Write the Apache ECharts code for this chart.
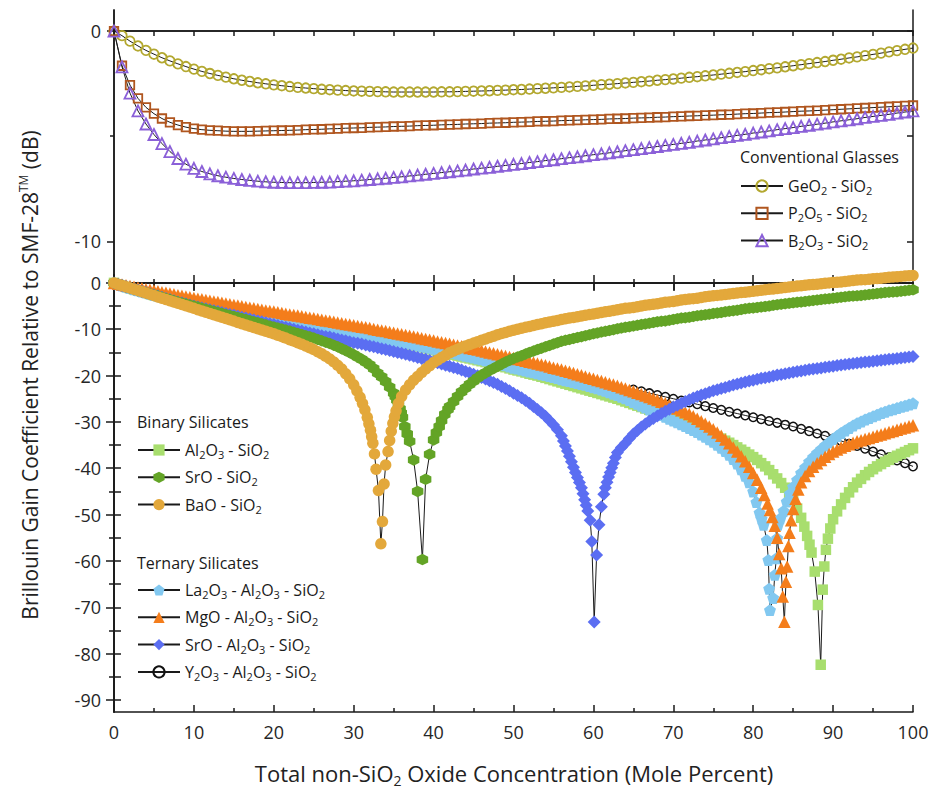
<!DOCTYPE html>
<html><head><meta charset="utf-8">
<script src="https://cdn.jsdelivr.net/npm/echarts@6.0.0/dist/echarts.min.js"></script>
<style>html,body{margin:0;padding:0;background:#fff}#c{width:932px;height:790px}</style>
</head><body><div id="c"></div>
<script>
// ---------- x positions (mole percent) ----------
const X_GRID = [0,1,2,3,4,5,6,7,8,9,10,11,12,13,14,15,16,17,18,19,20,21,22,23,24,25,26,27,28,29,30,31,32,33,34,35,36,37,38,39,40,41,42,43,44,45,46,47,48,49,50,51,52,53,54,55,56,57,58,59,60,61,62,63,64,65,66,67,68,69,70,71,72,73,74,75,76,77,78,79,80,81,82,83,84,85,86,87,88,89,90,91,92,93,94,95,96,97,98,99,100];
const X_HALF = [0.5,1.5,2.5,3.5,4.5,5.5,6.5,7.5,8.5,9.5,10.5,11.5,12.5,13.5,14.5,15.5,16.5,17.5,18.5,19.5,20.5,21.5,22.5,23.5,24.5,25.5,26.5,27.5,28.5,29.5,30.5,31.5,32.5,33.5,34.5,35.5,36.5,37.5,38.5,39.5,40.5,41.5,42.5,43.5,44.5,45.5,46.5,47.5,48.5,49.5,50.5,51.5,52.5,53.5,54.5,55.5,56.5,57.5,58.5,59.5,60.5,61.5,62.5,63.5,64.5,65.5,66.5,67.5,68.5,69.5,70.5,71.5,72.5,73.5,74.5,75.5,76.5,77.5,78.5,79.5,80.5,81.5,82.5,83.5,84.5,85.5,86.5,87.5,88.5,89.5,90.5,91.5,92.5,93.5,94.5,95.5,96.5,97.5,98.5,99.5];

// ---------- top panel: conventional glasses (dB) ----------
const GEO2 = [
 0,-0.22,-0.48,-0.71,-0.92,-1.10,-1.27,-1.42,-1.56,-1.69,
 -1.81,-1.92,-2.02,-2.11,-2.19,-2.27,-2.34,-2.40,-2.46,-2.51,
 -2.56,-2.60,-2.64,-2.68,-2.71,-2.74,-2.77,-2.79,-2.81,-2.83,
 -2.85,-2.86,-2.87,-2.88,-2.89,-2.90,-2.90,-2.90,-2.90,-2.90,
 -2.90,-2.89,-2.89,-2.88,-2.87,-2.86,-2.85,-2.84,-2.82,-2.81,
 -2.79,-2.78,-2.76,-2.74,-2.72,-2.70,-2.68,-2.66,-2.63,-2.61,
 -2.58,-2.55,-2.53,-2.50,-2.47,-2.44,-2.41,-2.38,-2.34,-2.31,
 -2.28,-2.24,-2.20,-2.17,-2.13,-2.09,-2.05,-2.01,-1.97,-1.93,
 -1.88,-1.84,-1.79,-1.75,-1.70,-1.65,-1.60,-1.55,-1.50,-1.45,
 -1.39,-1.34,-1.28,-1.23,-1.17,-1.11,-1.05,-0.99,-0.93,-0.87,
 -0.81];
const P2O5 = [
 0,-1.65,-2.57,-3.20,-3.63,-3.93,-4.16,-4.34,-4.47,-4.57,
 -4.64,-4.69,-4.72,-4.74,-4.76,-4.77,-4.77,-4.77,-4.76,-4.75,
 -4.74,-4.73,-4.72,-4.71,-4.69,-4.68,-4.67,-4.65,-4.64,-4.62,
 -4.61,-4.60,-4.58,-4.57,-4.56,-4.54,-4.53,-4.52,-4.50,-4.49,
 -4.48,-4.46,-4.45,-4.44,-4.42,-4.41,-4.40,-4.38,-4.37,-4.36,
 -4.34,-4.33,-4.32,-4.30,-4.29,-4.28,-4.26,-4.25,-4.24,-4.22,
 -4.21,-4.20,-4.18,-4.17,-4.16,-4.14,-4.13,-4.12,-4.10,-4.09,
 -4.07,-4.06,-4.04,-4.03,-4.01,-4.00,-3.98,-3.97,-3.95,-3.93,
 -3.92,-3.90,-3.88,-3.87,-3.85,-3.83,-3.81,-3.80,-3.78,-3.76,
 -3.74,-3.72,-3.70,-3.68,-3.66,-3.64,-3.62,-3.60,-3.58,-3.56,
 -3.54];
const B2O3 = [
 0,-1.70,-2.95,-3.80,-4.42,-4.92,-5.35,-5.73,-6.06,-6.33,
 -6.53,-6.68,-6.79,-6.88,-6.95,-7.01,-7.06,-7.10,-7.14,-7.17,
 -7.19,-7.20,-7.21,-7.21,-7.21,-7.20,-7.19,-7.18,-7.16,-7.14,
 -7.12,-7.09,-7.06,-7.03,-7.00,-6.96,-6.93,-6.89,-6.85,-6.81,
 -6.77,-6.73,-6.69,-6.65,-6.61,-6.56,-6.52,-6.48,-6.43,-6.39,
 -6.34,-6.30,-6.25,-6.21,-6.16,-6.12,-6.07,-6.02,-5.98,-5.93,
 -5.88,-5.84,-5.79,-5.74,-5.69,-5.64,-5.59,-5.54,-5.49,-5.44,
 -5.39,-5.34,-5.29,-5.23,-5.18,-5.13,-5.07,-5.02,-4.96,-4.91,
 -4.85,-4.80,-4.75,-4.69,-4.64,-4.59,-4.53,-4.48,-4.43,-4.38,
 -4.32,-4.27,-4.22,-4.17,-4.11,-4.06,-4.01,-3.96,-3.90,-3.85,
 -3.80];

// ---------- bottom panel: binary & ternary silicates (dB) ----------
const AL2O3 = [
 0,-0.6,-1.15,-1.65,-2.15,-2.65,-3.05,-3.45,-3.85,-4.25,
 -4.65,-5.05,-5.4,-5.75,-6.1,-6.4,-6.7,-7.0,-7.3,-7.6,
 -7.9,-8.2,-8.5,-8.8,-9.1,-9.4,-9.7,-10.0,-10.3,-10.6,
 -10.9,-11.2,-11.6,-11.9,-12.3,-12.6,-13.0,-13.3,-13.7,-14.1,
 -14.5,-14.9,-15.3,-15.7,-16.1,-16.5,-16.9,-17.3,-17.8,-18.2,
 -18.7,-19.1,-19.6,-20.0,-20.5,-21.0,-21.5,-22.0,-22.5,-23.0,
 -23.5,-24.0,-24.5,-25.0,-25.6,-26.2,-26.8,-27.4,-28.0,-28.6,
 -29.3,-29.9,-30.6,-31.3,-32.0,-32.8,-33.6,-34.5,-35.5,-36.5,
 -37.6,-38.9,-40.4,-42.2,-44.2,null,null,null,null,null,
 null,-47.8,-45.2,-43.1,-41.5,-40.2,-39.1,-38.2,-37.3,-36.5,
 -35.7];
const AL2O3_HALF = [
 -0.3,-0.88,-1.4,-1.9,-2.4,-2.85,-3.25,-3.65,-4.05,-4.45,
 -4.85,-5.22,-5.58,-5.92,-6.25,-6.55,-6.85,-7.15,-7.45,-7.75,
 -8.05,-8.35,-8.65,-8.95,-9.25,-9.55,-9.85,-10.15,-10.45,-10.75,
 -11.05,-11.4,-11.75,-12.1,-12.45,-12.8,-13.15,-13.5,-13.9,-14.3,
 -14.7,-15.1,-15.5,-15.9,-16.3,-16.7,-17.1,-17.55,-18.0,-18.45,
 -18.9,-19.35,-19.8,-20.25,-20.75,-21.25,-21.75,-22.25,-22.75,-23.25,
 -23.75,-24.25,-24.75,-25.3,-25.9,-26.5,-27.1,-27.7,-28.3,-28.95,
 -29.6,-30.25,-30.95,-31.65,-32.4,-33.2,-34.05,-35.0,-36.0,-37.05,
 -38.2,-39.6,-41.3,-43.2,null,null,null,null,null,null,
 null,-46.4,-44.1,-42.3,-40.8,-39.6,-38.6,-37.7,-36.9,-36.1];
const AL2O3_DIP = [[84.5,-45.3],[85.0,-46.9],[85.5,-48.7],[86.0,-50.7],[86.4,-52.6],[86.75,-54.6],[87.05,-56.5],[87.3,-58.2],[87.7,-62.3],[88.1,-69.5],[88.45,-82.4],[88.7,-66.2],[88.9,-61.2],[89.1,-57.6],[89.35,-55.2],[89.65,-53.0],[90.0,-51.0],[90.5,-49.3]];

const SRO = [
 0,-0.55,-1.1,-1.6,-2.1,-2.6,-3.1,-3.6,-4.1,-4.55,
 -5.0,-5.45,-5.9,-6.35,-6.8,-7.25,-7.7,-8.15,-8.6,-9.05,
 -9.5,-9.95,-10.4,-10.9,-11.4,-11.9,-12.5,-13.1,-13.8,-14.6,
 -15.5,-16.5,-17.7,-19.5,-21.3,-23.8,null,null,null,null,
 null,-29.7,-26.7,-24.5,-22.7,-21.2,-19.9,-18.9,-18.0,-17.1,
 -16.3,-15.7,-15.0,-14.4,-13.8,-13.2,-12.6,-12.2,-11.8,-11.4,
 -11.0,-10.6,-10.3,-9.9,-9.6,-9.3,-9.0,-8.7,-8.4,-8.2,
 -7.9,-7.6,-7.4,-7.1,-6.9,-6.6,-6.4,-6.1,-5.9,-5.6,
 -5.4,-5.2,-5.0,-4.7,-4.5,-4.3,-4.1,-3.9,-3.7,-3.5,
 -3.3,-3.1,-2.9,-2.8,-2.6,-2.4,-2.2,-2.0,-1.9,-1.7,
 -1.5];
const SRO_HALF = [
 -0.28,-0.83,-1.35,-1.85,-2.35,-2.85,-3.35,-3.85,-4.33,-4.78,
 -5.22,-5.68,-6.12,-6.58,-7.02,-7.48,-7.92,-8.38,-8.82,-9.28,
 -9.72,-10.18,-10.65,-11.15,-11.65,-12.2,-12.8,-13.45,-14.2,-15.05,
 -16.0,-17.1,null,null,null,null,null,null,null,null,
 null,null,null,null,-21.9,-20.5,-19.4,-18.45,-17.55,-16.7,
 -16.0,-15.35,-14.7,-14.1,-13.5,-12.9,-12.4,-12.0,-11.6,-11.2,
 -10.8,-10.45,-10.1,-9.75,-9.45,-9.15,-8.85,-8.55,-8.3,-8.05,
 -7.75,-7.5,-7.25,-7.0,-6.75,-6.5,-6.25,-6.0,-5.75,-5.5,
 -5.3,-5.1,-4.85,-4.6,-4.4,-4.2,-4.0,-3.8,-3.6,-3.4,
 -3.2,-3.0,-2.85,-2.7,-2.5,-2.3,-2.1,-1.95,-1.8,-1.6];
const SRO_DIP = [[32.5,-18.5],[33.5,-20.3],[34.5,-22.5],[35.2,-24.5],[35.4,-25.3],[35.6,-26.2],[35.8,-27.2],[35.95,-28.1],[36.1,-29.0],[36.4,-31.0],[36.7,-32.6],[37.0,-34.2],[37.5,-38.2],[38.0,-45.0],[38.6,-59.7],[39.0,-42.4],[39.5,-37.0],[40.0,-33.9],[40.35,-32.3],[40.7,-31.0],[41.4,-28.4],[41.8,-27.3],[42.5,-25.6],[43.5,-23.5]];

const BAO = [
 0,-0.55,-1.1,-1.65,-2.2,-2.75,-3.3,-3.85,-4.4,-4.95,
 -5.5,-6.05,-6.6,-7.15,-7.7,-8.25,-8.8,-9.35,-9.9,-10.45,
 -11.0,-11.6,-12.25,-12.9,-13.6,-14.4,-15.3,-16.4,-17.8,-19.6,
 -22.0,null,null,null,null,null,null,null,-20.2,-18.6,
 -17.2,-16.1,-15.1,-14.3,-13.6,-13.0,-12.4,-11.8,-11.2,-10.7,
 -10.2,-9.8,-9.4,-9.0,-8.6,-8.3,-7.9,-7.6,-7.3,-7.0,
 -6.7,-6.4,-6.1,-5.8,-5.5,-5.3,-5.0,-4.7,-4.5,-4.2,
 -4.0,-3.7,-3.5,-3.3,-3.0,-2.8,-2.6,-2.4,-2.2,-2.0,
 -1.8,-1.6,-1.4,-1.2,-1.0,-0.8,-0.6,-0.4,-0.3,-0.1,
 0.1,0.2,0.4,0.6,0.7,0.9,1.0,1.2,1.3,1.5,
 1.6];
const BAO_HALF = [
 -0.28,-0.83,-1.38,-1.93,-2.48,-3.03,-3.58,-4.13,-4.68,-5.23,
 -5.78,-6.33,-6.88,-7.43,-7.98,-8.53,-9.08,-9.63,-10.18,-10.72,
 -11.3,-11.92,-12.57,-13.25,-14.0,-14.85,-15.85,-17.05,null,null,
 null,null,null,null,null,null,null,null,-19.35,-17.9,
 -16.65,-15.6,-14.7,-13.95,-13.3,-12.7,-12.1,-11.5,-10.95,-10.45,
 -10.0,-9.6,-9.2,-8.8,-8.45,-8.1,-7.75,-7.45,-7.15,-6.85,
 -6.55,-6.25,-5.95,-5.65,-5.4,-5.15,-4.85,-4.6,-4.35,-4.1,
 -3.85,-3.6,-3.4,-3.15,-2.9,-2.7,-2.5,-2.3,-2.1,-1.9,
 -1.7,-1.5,-1.3,-1.1,-0.9,-0.7,-0.5,-0.35,-0.2,0.0,
 0.15,0.3,0.5,0.65,0.8,0.95,1.1,1.25,1.4,1.55];
const BAO_DIP = [[28.5,-18.6],[29.5,-20.7],[30.4,-23.3],[30.8,-24.7],[31.1,-26.0],[31.4,-27.4],[31.7,-29.0],[31.9,-30.4],[32.1,-31.8],[32.25,-33.2],[32.4,-34.6],[32.6,-36.9],[32.8,-40.2],[33.1,-44.8],[33.4,-56.3],[33.6,-51.5],[33.8,-43.4],[34.0,-39.3],[34.3,-36.4],[34.5,-34.0],[34.7,-32.0],[34.9,-30.3],[35.1,-28.9],[35.3,-27.6],[35.6,-26.0],[36.0,-24.5],[36.5,-23.1],[37.0,-22.0],[37.5,-21.0]];

const LA2O3 = [
 0,-0.55,-1.1,-1.6,-2.1,-2.6,-3.0,-3.4,-3.8,-4.2,
 -4.6,-5.0,-5.3,-5.7,-6.0,-6.3,-6.6,-6.9,-7.2,-7.5,
 -7.8,-8.1,-8.4,-8.7,-9.0,-9.3,-9.6,-9.9,-10.2,-10.5,
 -10.8,-11.1,-11.4,-11.8,-12.1,-12.4,-12.8,-13.1,-13.5,-13.8,
 -14.2,-14.5,-14.9,-15.3,-15.7,-16.1,-16.5,-16.9,-17.4,-17.8,
 -18.3,-18.7,-19.1,-19.5,-19.9,-20.3,-20.8,-21.2,-21.6,-22.0,
 -22.5,-23.0,-23.6,-24.2,-24.9,-25.7,-26.5,-27.3,-28.1,-28.9,
 -29.7,-30.5,-31.3,-32.2,-33.2,-34.3,-35.6,-37.1,-39.0,-41.6,
 null,null,null,null,null,null,-41.0,-38.6,-36.7,-35.1,
 -33.7,-32.4,-31.3,-30.3,-29.5,-28.8,-28.1,-27.5,-27.0,-26.5,
 -26.0];
const LA2O3_HALF = [
 -0.28,-0.83,-1.35,-1.85,-2.35,-2.8,-3.2,-3.6,-4.0,-4.4,
 -4.8,-5.15,-5.5,-5.85,-6.15,-6.45,-6.75,-7.05,-7.35,-7.65,
 -7.95,-8.25,-8.55,-8.85,-9.15,-9.45,-9.75,-10.05,-10.35,-10.65,
 -10.95,-11.25,-11.6,-11.95,-12.25,-12.6,-12.95,-13.3,-13.65,-14.0,
 -14.35,-14.7,-15.1,-15.5,-15.9,-16.3,-16.7,-17.15,-17.6,-18.05,
 -18.5,-18.9,-19.3,-19.7,-20.1,-20.55,-21.0,-21.4,-21.8,-22.25,
 -22.75,-23.3,-23.9,-24.55,-25.3,-26.1,-26.9,-27.7,-28.5,-29.3,
 -30.1,-30.9,-31.75,-32.7,-33.75,-34.95,-36.3,-38.0,null,null,
 null,null,null,null,null,null,-39.8,-37.6,-35.9,-34.4,
 -33.05,-31.85,-30.8,-29.9,-29.15,-28.45,-27.8,-27.25,-26.75,-26.25];
const LA2O3_DIP = [[78.5,-40.2],[79.5,-43.0],[80.0,-45.0],[80.4,-47.3],[80.8,-49.6],[81.05,-50.9],[81.3,-52.2],[81.7,-55.5],[81.9,-59.8],[82.0,-66.0],[82.1,-70.6],[82.5,-68.0],[82.7,-63.0],[82.9,-59.4],[83.0,-55.1],[83.1,-52.2],[83.4,-50.8],[83.8,-49.2],[84.2,-47.2],[84.6,-45.5],[85.0,-44.0],[85.5,-42.5]];

const MGO = [
 0,-0.35,-0.7,-1.0,-1.35,-1.65,-2.0,-2.3,-2.65,-2.95,
 -3.25,-3.55,-3.85,-4.15,-4.45,-4.75,-5.05,-5.35,-5.65,-5.95,
 -6.2,-6.5,-6.8,-7.05,-7.35,-7.65,-7.95,-8.25,-8.55,-8.85,
 -9.15,-9.45,-9.75,-10.1,-10.4,-10.75,-11.1,-11.4,-11.75,-12.1,
 -12.45,-12.8,-13.15,-13.5,-13.85,-14.2,-14.6,-15.0,-15.4,-15.8,
 -16.2,-16.6,-17.0,-17.4,-17.8,-18.3,-18.7,-19.2,-19.7,-20.2,
 -20.7,-21.2,-21.7,-22.2,-22.8,-23.4,-24.0,-24.6,-25.3,-26.0,
 -26.7,-27.5,-28.3,-29.3,-30.4,-31.6,-33.0,-34.6,-36.4,-38.5,
 null,null,null,null,null,null,-43.0,-40.6,-38.9,-37.5,
 -36.4,-35.5,-34.8,-34.2,-33.7,-33.2,-32.7,-32.2,-31.7,-31.2,
 -30.7];
const MGO_HALF = [
 -0.18,-0.53,-0.85,-1.18,-1.5,-1.83,-2.15,-2.48,-2.8,-3.1,
 -3.4,-3.7,-4.0,-4.3,-4.6,-4.9,-5.2,-5.5,-5.8,-6.08,
 -6.35,-6.65,-6.93,-7.2,-7.5,-7.8,-8.1,-8.4,-8.7,-9.0,
 -9.3,-9.6,-9.93,-10.25,-10.58,-10.93,-11.25,-11.58,-11.93,-12.28,
 -12.63,-12.98,-13.33,-13.68,-14.03,-14.4,-14.8,-15.2,-15.6,-16.0,
 -16.4,-16.8,-17.2,-17.6,-18.05,-18.5,-18.95,-19.45,-19.95,-20.45,
 -20.95,-21.45,-21.95,-22.5,-23.1,-23.7,-24.3,-24.95,-25.65,-26.35,
 -27.1,-27.9,-28.8,-29.85,-31.0,-32.3,-33.8,-35.5,null,null,
 null,null,null,null,null,null,-41.7,-39.7,-38.2,-36.95,
 -35.95,-35.15,-34.5,-33.95,-33.45,-32.95,-32.45,-31.95,-31.45,-30.95];
const MGO_DIP = [[78.5,-37.4],[79.5,-39.7],[80.0,-41.0],[80.5,-42.5],[81.0,-44.2],[81.4,-45.8],[81.8,-47.6],[82.1,-49.0],[82.4,-50.5],[82.7,-52.4],[83.0,-55.0],[83.25,-58.5],[83.5,-61.6],[83.7,-67.7],[83.9,-73.1],[84.1,-64.5],[84.25,-61.2],[84.4,-56.8],[84.55,-53.9],[84.75,-51.2],[85.0,-48.8],[85.3,-46.6],[85.65,-44.6]];

const SRO_AL = [
 0,-0.55,-1.1,-1.6,-2.1,-2.6,-3.1,-3.6,-4.1,-4.5,
 -5.0,-5.4,-5.8,-6.2,-6.6,-7.0,-7.4,-7.8,-8.2,-8.6,
 -9.0,-9.4,-9.8,-10.2,-10.6,-11.0,-11.4,-11.7,-12.1,-12.5,
 -12.9,-13.2,-13.6,-14.0,-14.4,-14.8,-15.2,-15.6,-16.1,-16.5,
 -17.0,-17.5,-18.0,-18.5,-19.1,-19.7,-20.4,-21.1,-21.9,-22.8,
 -23.8,-24.8,-26.0,-27.3,-28.8,-30.6,-33.0,null,null,null,
 null,null,null,-36.6,-34.6,-32.6,-31.1,-29.8,-28.7,-27.7,
 -26.8,-26.0,-25.2,-24.5,-23.9,-23.3,-22.8,-22.3,-21.8,-21.4,
 -21.0,-20.6,-20.3,-19.9,-19.6,-19.3,-19.0,-18.7,-18.5,-18.2,
 -18.0,-17.7,-17.5,-17.3,-17.1,-16.9,-16.7,-16.5,-16.3,-16.1,
 -15.9];
const SRO_AL_HALF = [
 -0.28,-0.83,-1.35,-1.85,-2.35,-2.85,-3.35,-3.85,-4.3,-4.75,
 -5.2,-5.6,-6.0,-6.4,-6.8,-7.2,-7.6,-8.0,-8.4,-8.8,
 -9.2,-9.6,-10.0,-10.4,-10.8,-11.2,-11.55,-11.9,-12.3,-12.7,
 -13.05,-13.4,-13.8,-14.2,-14.6,-15.0,-15.4,-15.85,-16.3,-16.75,
 -17.25,-17.75,-18.25,-18.8,-19.4,-20.05,-20.75,-21.5,-22.35,-23.3,
 -24.3,-25.4,-26.65,-28.05,-29.7,null,null,null,null,null,
 null,null,null,null,-33.6,-31.85,-30.45,-29.25,-28.2,-27.25,
 -26.4,-25.6,-24.85,-24.2,-23.6,-23.05,-22.55,-22.05,-21.6,-21.2,
 -20.8,-20.45,-20.1,-19.75,-19.45,-19.15,-18.85,-18.6,-18.35,-18.1,
 -17.85,-17.6,-17.4,-17.2,-17.0,-16.8,-16.6,-16.4,-16.2,-16.0];
const SRO_AL_DIP = [[55.5,-31.7],[56.25,-34.1],[56.5,-35.2],[56.75,-36.3],[57.0,-37.4],[57.25,-38.6],[57.5,-39.8],[57.75,-40.9],[58.0,-42.0],[58.25,-43.1],[58.5,-44.2],[58.7,-45.5],[58.9,-46.8],[59.1,-48.0],[59.3,-49.2],[59.6,-51.2],[59.8,-55.8],[60.1,-73.2],[60.4,-58.7],[60.7,-52.2],[61.0,-48.3],[61.3,-45.6],[61.5,-44.2],[61.7,-43.0],[61.9,-41.9],[62.1,-40.9],[62.3,-39.9],[62.5,-38.9],[62.75,-37.7],[63.5,-35.5]];

const Y2O3_PTS = [[65,-23.0],[66,-23.4],[67,-23.8],[68,-24.2],[69,-24.6],[70,-25.0],[71,-25.4],[72,-25.8],[73,-26.2],[74,-26.6],[75,-27.0],[76,-27.4],[77,-27.8],[78,-28.2],[79,-28.6],[80,-29.0],[81,-29.4],[82,-29.8],[83,-30.2],[84,-30.6],[85,-31.0],[86,-31.5],[87,-32.0],[88,-32.5],[89,-33.0],[90,-33.6],[91,-34.1],[92,-34.7],[93,-35.2],[94,-35.8],[95,-36.4],[96,-37.0],[97,-37.6],[98,-38.3],[99,-38.9],[100,-39.6]];

// ---------- tick values ----------
const TOP_Y_LABELS = [0, -10];
const TOP_Y_MINOR = [-5];
const TOP_Y_RIGHT = [0, -5, -10];
const BOT_Y_LABELS = [0,-10,-20,-30,-40,-50,-60,-70,-80,-90];
const BOT_Y_MINOR = [-5,-15,-25,-35,-45,-55,-65,-75,-85];
const BOT_Y_RIGHT = [0,-5,-10,-15,-20,-25,-30,-35,-40,-45,-50,-55,-60,-65,-70,-75,-80,-85,-90];

// ---------- legends ----------
const TOP_LEGEND = ['GeO2 - SiO2', 'P2O5 - SiO2', 'B2O3 - SiO2'];
const BIN_LEGEND = ['Al2O3 - SiO2', 'SrO - SiO2', 'BaO - SiO2'];
const TER_LEGEND = ['La2O3 - Al2O3 - SiO2', 'MgO - Al2O3 - SiO2', 'SrO - Al2O3 - SiO2', 'Y2O3 - Al2O3 - SiO2'];

// ---------- build ----------
function merge(grid, half, extra) {
  const pts = [];
  if (grid) grid.forEach((v, i) => { if (v !== null) pts.push([X_GRID[i], v]); });
  if (half) half.forEach((v, i) => { if (v !== null) pts.push([X_HALF[i], v]); });
  (extra || []).forEach(p => pts.push([p[0], p[1]]));
  pts.sort((a, b) => a[0] - b[0]);
  return pts;
}
const FONT = "'Open Sans', 'DejaVu Sans', sans-serif";
const INK = '#1a1a1a';
const HEX = 'path://M0,-10L8.66,-5L8.66,5L0,10L-8.66,5L-8.66,-5Z';
const PENT = 'path://M0,-10L9.51,-3.09L5.88,8.09L-5.88,8.09L-9.51,-3.09Z';

function ser(name, data, grid, symbol, size, item, z) {
  return {
    name, type: 'line', data,
    xAxisIndex: grid === 0 ? 0 : 4, yAxisIndex: grid === 0 ? 0 : 3,
    symbol, symbolSize: size, showSymbol: true, showAllSymbol: true,
    lineStyle: { color: INK, width: 1 }, itemStyle: item,
    z, animation: false, silent: true, emphasis: { disabled: true }
  };
}
const hollow = c => ({ color: 'rgba(0,0,0,0)', borderColor: c, borderWidth: 1.8 });
const solid = c => ({ color: c, borderWidth: 0 });

const series = [
  ser('GeO2 - SiO2', merge(GEO2), 0, 'circle', 9.5, hollow('#b3a830'), 3),
  ser('P2O5 - SiO2', merge(P2O5), 0, 'rect', 8.5, hollow('#b0561f'), 3),
  ser('B2O3 - SiO2', merge(B2O3), 0, 'triangle', 11, hollow('#8b60d8'), 3),
  ser('Y2O3 - Al2O3 - SiO2', merge(null, null, Y2O3_PTS), 1, 'circle', 8.5, { color: 'rgba(0,0,0,0)', borderColor: '#111', borderWidth: 1.5 }, 2),
  ser('Al2O3 - SiO2', merge(AL2O3, AL2O3_HALF, AL2O3_DIP), 1, 'rect', 10.5, solid('#a8de6e'), 3),
  ser('La2O3 - Al2O3 - SiO2', merge(LA2O3, LA2O3_HALF, LA2O3_DIP), 1, PENT, 12, solid('#82c8f0'), 4),
  ser('MgO - Al2O3 - SiO2', merge(MGO, MGO_HALF, MGO_DIP), 1, 'triangle', 12.5, solid('#f47d1b'), 5),
  ser('SrO - Al2O3 - SiO2', merge(SRO_AL, SRO_AL_HALF, SRO_AL_DIP), 1, 'diamond', 13, solid('#5b6ef2'), 6),
  ser('SrO - SiO2', merge(SRO, SRO_HALF, SRO_DIP), 1, HEX, 11.5, solid('#63a426'), 7),
  ser('BaO - SiO2', merge(BAO, BAO_HALF, BAO_DIP), 1, 'circle', 11.5, solid('#e3a83b'), 8)
];

const line = { show: true, lineStyle: { color: INK, width: 1.5 } };
const tick = (inside, len, extra) => Object.assign({ show: true, inside, length: len, lineStyle: { color: INK, width: 1.5 } }, extra || {});
const minor = { show: true, splitNumber: 2, length: 4, lineStyle: { color: INK, width: 1.5 } };
const noSplit = { show: false };
const noLabel = { show: false };
const G0 = { left: 114, width: 799, top: 10, height: 265 };
const G1 = { left: 114, width: 799, top: 275, height: 437 };

const xBase = (gi, pos) => ({ type: 'value', gridIndex: gi, position: pos, min: 0, max: 100, axisLine: line, splitLine: noSplit, minorSplitLine: { show: false } });
const xAxis = [
  Object.assign(xBase(0, 'bottom'), { axisTick: { show: false }, axisLabel: noLabel }),
  Object.assign(xBase(0, 'top'), { interval: 5, axisTick: tick(true, 5), axisLabel: noLabel }),
  Object.assign(xBase(1, 'top'), { interval: 10, axisTick: tick(true, 8), minorTick: minor, axisLabel: noLabel }),
  Object.assign(xBase(1, 'top'), { interval: 10, axisTick: tick(false, 8), minorTick: minor, axisLabel: noLabel }),
  Object.assign(xBase(1, 'bottom'), { interval: 10, axisTick: tick(false, 7), minorTick: minor, axisLabel: { show: true, margin: 11, fontSize: 18, fontFamily: FONT, color: '#262626' } }),
  Object.assign(xBase(1, 'bottom'), { interval: 10, axisTick: tick(true, 7), minorTick: minor, axisLabel: noLabel })
];
const yBase = (gi, pos, min, max) => ({ type: 'value', gridIndex: gi, position: pos, min, max, axisLine: line, splitLine: noSplit });
const yLab = vals => ({ show: true, customValues: vals, margin: 13, fontSize: 18, fontFamily: FONT, color: '#262626' });
const yAxis = [
  Object.assign(yBase(0, 'left', -11.6, 1), { axisTick: tick(false, 7, { customValues: TOP_Y_LABELS }), axisLabel: yLab(TOP_Y_LABELS) }),
  Object.assign(yBase(0, 'left', -11.6, 1), { axisTick: tick(false, 4, { customValues: TOP_Y_MINOR }), axisLabel: noLabel }),
  Object.assign(yBase(0, 'right', -11.6, 1), { axisTick: tick(true, 6, { customValues: TOP_Y_RIGHT }), axisLabel: noLabel }),
  Object.assign(yBase(1, 'left', -92.6, 1.7), { axisTick: tick(false, 8, { customValues: BOT_Y_LABELS }), axisLabel: yLab(BOT_Y_LABELS) }),
  Object.assign(yBase(1, 'left', -92.6, 1.7), { axisTick: tick(false, 5, { customValues: BOT_Y_MINOR }), axisLabel: noLabel }),
  Object.assign(yBase(1, 'right', -92.6, 1.7), { axisTick: tick(false, 7, { customValues: BOT_Y_RIGHT }), axisLabel: noLabel })
];

const legTxt = {
  fontFamily: FONT, fontSize: 16, color: INK, lineHeight: 20,
  rich: { s: { fontFamily: FONT, fontSize: 11, color: INK, lineHeight: 11, verticalAlign: 'bottom' } }
};
const fmt = n => n.replace(/(\d)/g, '{s|$1}');
const leg = (data, left, top) => ({ data, left, top, orient: 'vertical', itemWidth: 42, itemHeight: 14, itemGap: 7.3, selectedMode: false, formatter: fmt, textStyle: legTxt, padding: 0 });

const head = (txt, x, y) => ({ type: 'text', x, y, style: { text: txt, fontFamily: FONT, fontSize: 16, fill: INK, align: 'left', verticalAlign: 'middle' } });
const option = {
  backgroundColor: '#fff',
  animation: false,
  grid: [G0, G1],
  xAxis, yAxis, series,
  legend: [leg(TOP_LEGEND, 740, 176), leg(BIN_LEGEND, 137, 440), leg(TER_LEGEND, 137, 580)],
  graphic: [
    head('Conventional Glasses', 740, 157),
    head('Binary Silicates', 137, 422),
    head('Ternary Silicates', 137, 563),
    { type: 'text', x: 30, y: 375, rotation: Math.PI / 2,
      style: { text: 'Brillouin Gain Coefficient Relative to SMF-28{sup|TM} (dB)', fontFamily: FONT, fontSize: 21, lineHeight: 26, fill: '#222', align: 'center', verticalAlign: 'middle',
        rich: { sup: { fontFamily: FONT, fontSize: 12, lineHeight: 12, verticalAlign: 'top', fill: '#222' } } } },
    { type: 'text', x: 514, y: 773,
      style: { text: 'Total non-SiO{sub|2} Oxide Concentration (Mole Percent)', fontFamily: FONT, fontSize: 22, lineHeight: 28, fill: '#222', align: 'center', verticalAlign: 'middle',
        rich: { sub: { fontFamily: FONT, fontSize: 14, lineHeight: 14, verticalAlign: 'bottom', fill: '#222' } } } }
  ]
};
const chart = echarts.init(document.getElementById('c'), null, { renderer: 'svg' });
chart.setOption(option);
</script></body></html>
